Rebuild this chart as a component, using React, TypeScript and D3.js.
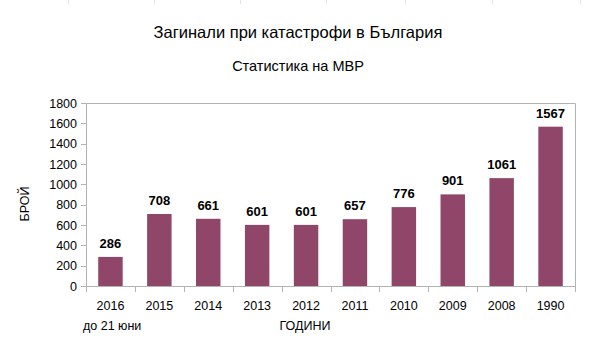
import { useEffect, useRef } from 'react';
import * as d3 from 'd3';

const years = ['2016', '2015', '2014', '2013', '2012', '2011', '2010', '2009', '2008', '1990'];
const deaths = [286, 708, 661, 601, 601, 657, 776, 901, 1061, 1567];
const yTicks = [0, 200, 400, 600, 800, 1000, 1200, 1400, 1600, 1800];
const sheetMarks = [68, 154, 240, 326, 405, 492, 580];

const W = 598;
const H = 354;
const FONT = 'Liberation Sans, Arial, sans-serif';

export default function App() {
  const svgRef = useRef<SVGSVGElement>(null);

  useEffect(() => {
    if (!svgRef.current) return;
    const svg = d3.select(svgRef.current);
    svg.selectAll('*').remove();

    const left = 86;
    const right = 575;
    const top = 103;
    const bottom = 286;

    const x = d3.scaleBand<string>().domain(years).range([left, right]).paddingInner(0.5).paddingOuter(0.25);
    const band = d3.scaleBand<string>().domain(years).range([left, right]);
    const y = d3.scaleLinear().domain([0, 1800]).range([bottom, top]);

    svg.append('rect').attr('width', W).attr('height', H).attr('fill', '#fff');

    // faint spreadsheet column marks at the top edge
    svg.selectAll('line.sheet')
      .data(sheetMarks)
      .join('line')
      .attr('x1', (d) => d + 0.5)
      .attr('x2', (d) => d + 0.5)
      .attr('y1', 0)
      .attr('y2', 4)
      .attr('stroke', '#e4e4e4');

    // titles
    svg.append('text')
      .attr('x', 298).attr('y', 38)
      .attr('text-anchor', 'middle')
      .style('font-family', FONT).style('font-size', '16.5px')
      .text('Загинали при катастрофи в България');

    svg.append('text')
      .attr('x', 298).attr('y', 71)
      .attr('text-anchor', 'middle')
      .style('font-family', FONT).style('font-size', '14.5px')
      .text('Статистика на МВР');

    // frame (top and right)
    svg.append('path')
      .attr('d', `M${left + 0.5},${top + 0.5}H${right + 0.5}V${bottom + 0.5}`)
      .attr('fill', 'none')
      .attr('stroke', '#b3b3b3');

    // bars
    svg.selectAll('rect.bar')
      .data(deaths)
      .join('rect')
      .attr('x', (_, i) => x(years[i])!)
      .attr('y', (d) => y(d))
      .attr('width', x.bandwidth())
      .attr('height', (d) => bottom - y(d))
      .attr('fill', '#8f4668');

    // value labels
    svg.selectAll('text.val')
      .data(deaths)
      .join('text')
      .attr('x', (_, i) => x(years[i])! + x.bandwidth() / 2)
      .attr('y', (d) => y(d) - 9)
      .attr('text-anchor', 'middle')
      .style('font-family', FONT).style('font-size', '13px').style('font-weight', '700')
      .text((d) => d);

    // y axis
    const yAxis = svg.append('g');
    yAxis.append('line')
      .attr('x1', left + 0.5).attr('x2', left + 0.5)
      .attr('y1', top).attr('y2', bottom + 0.5)
      .attr('stroke', '#b3b3b3');
    yAxis.selectAll('line.tick')
      .data(yTicks)
      .join('line')
      .attr('x1', left - 5).attr('x2', left)
      .attr('y1', (d) => Math.round(y(d)) + 0.5)
      .attr('y2', (d) => Math.round(y(d)) + 0.5)
      .attr('stroke', '#b3b3b3');
    yAxis.selectAll('text')
      .data(yTicks)
      .join('text')
      .attr('x', left - 9)
      .attr('y', (d) => y(d) + 4.5)
      .attr('text-anchor', 'end')
      .style('font-family', FONT).style('font-size', '12.5px')
      .text((d) => d);

    // x axis
    const xAxis = svg.append('g');
    xAxis.append('line')
      .attr('x1', left).attr('x2', right + 1)
      .attr('y1', bottom + 0.5).attr('y2', bottom + 0.5)
      .attr('stroke', '#b3b3b3');
    const bounds = years.map((yr) => band(yr)!).concat([right]);
    xAxis.selectAll('line.tick')
      .data(bounds)
      .join('line')
      .attr('x1', (d) => Math.round(d) + 0.5)
      .attr('x2', (d) => Math.round(d) + 0.5)
      .attr('y1', bottom)
      .attr('y2', bottom + 6)
      .attr('stroke', '#b3b3b3');
    xAxis.selectAll('text')
      .data(years)
      .join('text')
      .attr('x', (d) => band(d)! + band.bandwidth() / 2)
      .attr('y', 310)
      .attr('text-anchor', 'middle')
      .style('font-family', FONT).style('font-size', '12.5px')
      .text((d) => d);

    svg.append('text')
      .attr('x', 83).attr('y', 330)
      .style('font-family', FONT).style('font-size', '12.5px')
      .text('до 21 юни');

    svg.append('text')
      .attr('x', 305).attr('y', 330)
      .attr('text-anchor', 'middle')
      .style('font-family', FONT).style('font-size', '12.5px')
      .text('ГОДИНИ');

    svg.append('text')
      .attr('transform', 'translate(29,204) rotate(-90)')
      .attr('text-anchor', 'middle')
      .style('font-family', FONT).style('font-size', '12.5px')
      .text('БРОЙ');
  }, []);

  return (
    <svg
      ref={svgRef}
      width={W}
      height={H}
      style={{ position: 'absolute', left: 0, top: 0, display: 'block' }}
    />
  );
}
